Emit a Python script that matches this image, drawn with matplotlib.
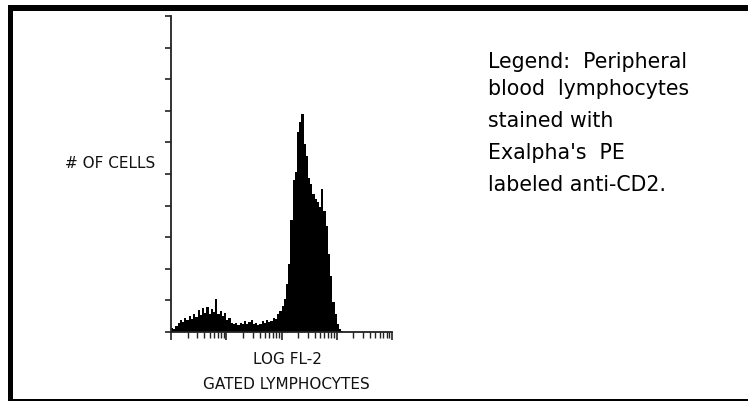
import numpy as np
import matplotlib
matplotlib.use("Agg")
import matplotlib.pyplot as plt
from matplotlib.patches import Rectangle
from matplotlib.ticker import LogLocator, NullFormatter

# histogram counts, 25 channels per decade, starting at the first decade
counts = [4, 3, 6, 9, 12, 10, 14, 12, 16, 13,
          18, 15, 22, 17, 24, 19, 25, 18, 23, 20,
          33, 18, 21, 16, 19, 12, 14, 9, 8, 9,
          7, 9, 8, 11, 8, 10, 12, 8, 9, 7,
          8, 11, 9, 12, 10, 11, 14, 13, 18, 21,
          26, 33, 48, 68, 112, 152, 160, 200, 210, 218,
          188, 176, 154, 148, 138, 133, 130, 125, 143, 121,
          106, 78, 56, 30, 18, 8, 3, 1]
bins_per_decade = 25
n_decades = 4
y_max = 316

legend_lines = ["Legend:  Peripheral",
                "blood  lymphocytes",
                "stained with",
                "Exalpha's  PE",
                "labeled anti-CD2."]

W, H = 748, 402
fig = plt.figure(figsize=(W / 100, H / 100), dpi=100)

# axes box in pixels: left 171, right 392, top 17, bottom 333
ax = fig.add_axes([171 / W, (H - 333) / H, 221 / W, 316 / H])
edges = 10 ** (np.arange(len(counts) + 1) / bins_per_decade)
ax.stairs(counts, edges, fill=True, color="black", lw=0)

ax.set_xscale("log")
ax.set_xlim(1, 10 ** n_decades)
ax.set_ylim(0, y_max)
ax.set_yticks(np.linspace(0, y_max, 11))
ax.xaxis.set_major_locator(LogLocator(base=10, numticks=10))
ax.xaxis.set_minor_locator(LogLocator(base=10, subs=np.arange(2, 10), numticks=20))
ax.xaxis.set_minor_formatter(NullFormatter())
ax.tick_params(axis="y", direction="out", length=4, width=1.2, color="#222222",
               labelleft=False)
ax.tick_params(axis="x", which="major", direction="out", length=6, width=1.2,
               color="#222222", labelbottom=False)
ax.tick_params(axis="x", which="minor", direction="out", length=4, width=1.0,
               color="#222222")
for s in ["top", "right"]:
    ax.spines[s].set_visible(False)
for s in ["left", "bottom"]:
    ax.spines[s].set_linewidth(1.3)
    ax.spines[s].set_color("#222222")

# frame lines of the original page (top, bottom, left), open on the right
fig.add_artist(Rectangle((740 / W, 0), 8 / W, 1, transform=fig.transFigure,
                         color="white", lw=0))
fig.add_artist(Rectangle((8 / W, 0), 740 / W, 2 / H, transform=fig.transFigure,
                         color="black", lw=0))
fig.add_artist(Rectangle((8 / W, 1 - 12 / H), 740 / W, 6 / H, transform=fig.transFigure,
                         color="black", lw=0))
fig.add_artist(Rectangle((8 / W, 0), 5 / W, (H - 6) / H, transform=fig.transFigure,
                         color="black", lw=0))

lab_font = dict(family="DejaVu Sans", fontsize=11, color="#111111")
fig.text(110 / W, 1 - 164 / H, "# OF CELLS", ha="center", va="center", **lab_font)
fig.text(287 / W, 1 - 360 / H, "LOG FL-2", ha="center", va="center", **lab_font)
fig.text(286 / W, 1 - 385 / H, "GATED LYMPHOCYTES", ha="center", va="center", **lab_font)

baselines = [68, 95, 127, 159, 191]
for line, yb in zip(legend_lines, baselines):
    fig.text(488 / W, 1 - yb / H, line, ha="left", va="baseline",
             family="DejaVu Sans", fontsize=14.8, color="black")

fig.savefig("out.png", dpi=100)
